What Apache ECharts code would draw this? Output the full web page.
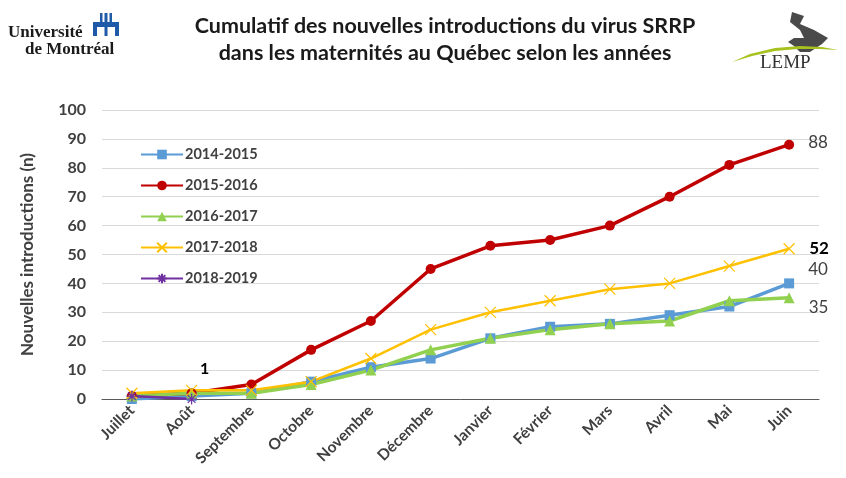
<!DOCTYPE html>
<html>
<head>
<meta charset="utf-8">
<script src="https://cdn.jsdelivr.net/npm/echarts@6/dist/echarts.min.js"></script>
<style>
  body { margin: 0; background: #fff; }
  #main { width: 846px; height: 478px; }
</style>
</head>
<body>
<div id="main"></div>
<script>
// categories (mois)
var months = ['Juillet', 'Août', 'Septembre', 'Octobre', 'Novembre', 'Décembre', 'Janvier', 'Février', 'Mars', 'Avril', 'Mai', 'Juin']

// cumulative new introductions per season
var s2014 = [0, 1, 2, 6, 11, 14, 21, 25, 26, 29, 32, 40]
var s2015 = [1, 2, 5, 17, 27, 45, 53, 55, 60, 70, 81, 88]
var s2016 = [1, 2, 2, 5, 10, 17, 21, 24, 26, 27, 34, 35]
var s2017 = [2, 3, 3, 6, 14, 24, 30, 34, 38, 40, 46, 52]
var s2018 = [1, 0]

var yTicks = [0, 10, 20, 30, 40, 50, 60, 70, 80, 90, 100]

var font = 'Lato, "Open Sans", sans-serif'
var serif = '"Liberation Serif", "DejaVu Serif", serif'
var txt = '#404040'

function endLabel (data, offset, bold, color) {
  return {
    show: true,
    position: 'right',
    distance: 14,
    offset: offset,
    fontFamily: font,
    fontSize: 17,
    fontWeight: bold ? 'bold' : 'normal',
    color: color || txt,
    formatter: function (p) {
      return p.dataIndex === data.length - 1 ? String(p.value) : ''
    }
  }
}

var chart = echarts.init(document.getElementById('main'))
var option = {
  backgroundColor: '#fff',
  animation: false,
  title: {
    text: 'Cumulatif des nouvelles introductions du virus SRRP\ndans les maternités au Québec selon les années',
    left: 440,
    textAlign: 'center',
    top: 8,
    textStyle: {
      fontFamily: font,
      fontSize: 21.5,
      fontWeight: 'bold',
      color: '#1a1a1a',
      lineHeight: 27
    }
  },
  legend: {
    orient: 'vertical',
    left: 135,
    top: 142,
    itemGap: 16,
    itemWidth: 42,
    itemHeight: 12,
    textStyle: { fontFamily: font, fontSize: 14.5, fontWeight: 'bold', color: txt, padding: [0, 0, 0, -3] },
    data: ['2014-2015', '2015-2016', '2016-2017', '2017-2018', '2018-2019']
  },
  grid: { left: 102, right: 27, top: 110, bottom: 79 },
  xAxis: {
    type: 'category',
    data: months,
    boundaryGap: true,
    axisLine: { lineStyle: { color: '#595959', width: 1 } },
    axisTick: { show: false },
    axisLabel: {
      rotate: 45,
      fontFamily: font,
      fontSize: 15.5,
      fontWeight: 'bold',
      color: txt,
      margin: 9
    }
  },
  yAxis: {
    type: 'value',
    min: yTicks[0],
    max: yTicks[yTicks.length - 1],
    interval: 10,
    name: 'Nouvelles introductions (n)',
    nameLocation: 'middle',
    nameGap: 66,
    nameTextStyle: { fontFamily: font, fontSize: 17, fontWeight: 'bold', color: txt },
    axisLine: { show: false },
    axisTick: { show: false },
    axisLabel: { fontFamily: font, fontSize: 16, fontWeight: 'bold', color: txt, margin: 16 },
    splitLine: { lineStyle: { color: '#d9d9d9', width: 1 } }
  },
  series: [
    {
      name: '2014-2015',
      type: 'line',
      data: s2014,
      symbol: 'rect',
      symbolSize: 10,
      lineStyle: { color: '#5B9BD5', width: 3.5 },
      itemStyle: { color: '#5B9BD5' },
      label: endLabel(s2014, [0, -14])
    },
    {
      name: '2015-2016',
      type: 'line',
      data: s2015,
      symbol: 'circle',
      symbolSize: 10,
      lineStyle: { color: '#C00000', width: 3.5 },
      itemStyle: { color: '#C00000' },
      label: endLabel(s2015, [0, -2])
    },
    {
      name: '2016-2017',
      type: 'line',
      data: s2016,
      symbol: 'triangle',
      symbolSize: 11,
      lineStyle: { color: '#92D050', width: 3.5 },
      itemStyle: { color: '#92D050' },
      label: endLabel(s2016, [0, 10])
    },
    {
      name: '2017-2018',
      type: 'line',
      data: s2017,
      symbol: 'path://M0,0L10,10M10,0L0,10',
      symbolSize: 11,
      lineStyle: { color: '#FFC000', width: 2.5 },
      itemStyle: { color: 'rgba(0,0,0,0)', borderColor: '#FFC000', borderWidth: 1.2 },
      label: endLabel(s2017, [0, 0], true, '#000')
    },
    {
      name: '2018-2019',
      type: 'line',
      data: s2018,
      symbol: 'path://M0,5L10,5M5,0L5,10M1.5,1.5L8.5,8.5M8.5,1.5L1.5,8.5',
      symbolSize: 11,
      lineStyle: { color: '#7030A0', width: 2.5 },
      itemStyle: { color: 'rgba(0,0,0,0)', borderColor: '#7030A0', borderWidth: 1.2 },
      label: {
        show: true,
        position: 'top',
        offset: [13, -11],
        fontFamily: font,
        fontSize: 16,
        fontWeight: 'bold',
        color: '#000',
        formatter: function (p) {
          return p.dataIndex === 1 ? '1' : ''
        }
      }
    }
  ],
  graphic: [
    {
      type: 'text',
      left: 8,
      top: 24,
      style: {
        text: 'Université\n    de Montréal',
        font: 'bold 17px ' + serif,
        fill: '#1a1a1a',
        lineHeight: 17
      }
    },
    {
      type: 'group',
      left: 93,
      top: 13,
      children: [
        { type: 'rect', shape: { x: 0, y: 9, width: 26, height: 5, r: [3, 3, 0, 0] }, style: { fill: '#1f5aa8' } },
        { type: 'rect', shape: { x: 0, y: 9, width: 4, height: 14 }, style: { fill: '#1f5aa8' } },
        { type: 'rect', shape: { x: 11.5, y: 0, width: 3, height: 23 }, style: { fill: '#1f5aa8' } },
        { type: 'rect', shape: { x: 7, y: 0, width: 2.5, height: 13 }, style: { fill: '#1f5aa8' } },
        { type: 'rect', shape: { x: 16.5, y: 0, width: 2.5, height: 13 }, style: { fill: '#1f5aa8' } },
        { type: 'rect', shape: { x: 22, y: 9, width: 4, height: 14 }, style: { fill: '#1f5aa8' } }
      ]
    },
    {
      type: 'group',
      left: 732,
      top: 12,
      children: [
        {
          type: 'polygon',
          shape: { points: [[62, 2], [74, 6], [70, 14], [84, 20], [98, 28], [92, 34], [80, 42], [70, 42], [64, 36], [58, 32], [64, 28], [74, 28], [70, 20], [60, 12]] },
          style: { fill: '#4a4a4a' }
        },
        {
          type: 'polygon',
          shape: { points: [[2, 52], [20, 44], [45, 38], [70, 36], [92, 37], [108, 40], [90, 39], [68, 39], [45, 41], [22, 46]] },
          style: { fill: '#a5c21e' }
        },
        {
          type: 'text',
          left: 30,
          top: 44,
          style: { text: 'LEMP', font: '19px ' + serif, fill: '#333' }
        }
      ]
    }
  ]
}
chart.setOption(option)
</script>
</body>
</html>
